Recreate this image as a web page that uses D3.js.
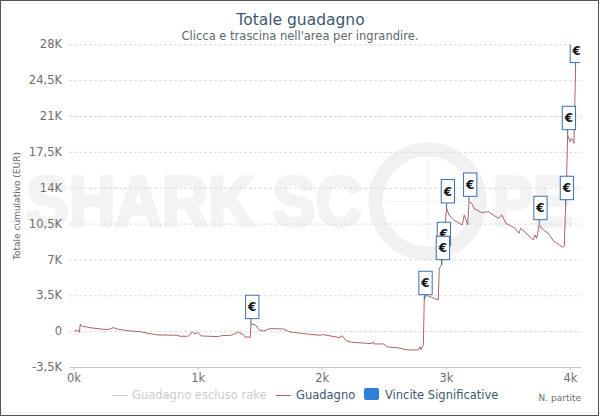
<!DOCTYPE html>
<html>
<head>
<meta charset="utf-8">
<script src="https://cdnjs.cloudflare.com/ajax/libs/d3/7.8.5/d3.min.js"></script>
<style>
    html, body { margin: 0; padding: 0; background: #fff; }
    svg { display: block; font-family: "DejaVu Sans", sans-serif; }
</style>
</head>
<body>
<div id="chart"></div>
<script>
const games = [12, 31, 47, 55, 74, 93, 133, 213, 280, 321, 361, 455, 536, 616, 681, 831, 858, 925, 957, 979, 1005, 1027, 1167, 1194, 1274, 1328, 1368, 1382, 1424, 1430, 1462, 1496, 1531, 1583, 1690, 1744, 1879, 1986, 2012, 2147, 2165, 2195, 2241, 2402, 2410, 2421, 2496, 2531, 2617, 2697, 2778, 2791, 2799, 2818, 2826, 2840, 2939, 2947, 2966, 2974, 3006, 3025, 3073, 3132, 3148, 3176, 3186, 3208, 3226, 3288, 3342, 3422, 3450, 3484, 3557, 3589, 3603, 3691, 3704, 3718, 3732, 3752, 3785, 3825, 3865, 3941, 3954, 3965, 3973, 3981, 4000, 4013, 4032, 4040, 4045]
const profit = [20, 50, -107, 673, 439, 439, 342, 215, 146, 342, 185, 20, -49, -244, -371, -400, -498, -498, -78, -244, -146, -468, -537, -439, -400, -78, -342, -566, -595, 703, 634, 117, 20, 244, 215, -78, -273, -400, -342, -634, -439, -927, -1083, -1220, -1054, -1249, -1249, -1542, -1640, -1835, -1835, -1513, -1806, -1347, 3045, 3504, 3045, 6139, 6461, 7830, 11995, 11341, 10785, 10365, 11341, 10365, 12639, 12483, 11995, 11566, 11663, 11019, 11341, 10531, 10043, 9555, 10043, 9067, 8901, 9389, 9067, 10365, 9877, 9555, 8833, 8189, 8316, 12317, 15079, 19149, 18495, 18827, 18339, 22887, 25700]

// the overlapping flags keep the order of the picture, 2966 sits on top of 2974
const flagGames = [1430, 2826, 2974, 2966, 3006, 3186, 3752, 3965, 3981, 4045]
const flagValues = [703, 3045, 7830, 6461, 11995, 12639, 10365, 12317, 19149, 25700]

const yTicks = [-3500, 0, 3500, 7000, 10500, 14000, 17500, 21000, 24500, 28000]
const yTickLabels = ['-3,5K', '0', '3,5K', '7K', '10,5K', '14K', '17,5K', '21K', '24,5K', '28K']
const xTicks = [0, 1000, 2000, 3000, 4000]
const xTickLabels = ['0k', '1k', '2k', '3k', '4k']

const width = 600, height = 417
const lineColor = '#ad646a'

const svg = d3.select('#chart').append('svg')
    .attr('width', width)
    .attr('height', height)

let x = d3.scaleLinear().domain([0, 4000]).range([73.5, 570])
let y = d3.scaleLinear().domain([-3500, 28000]).range([367, 44.3])

// frame
svg.append('rect')
    .attr('x', 0.5).attr('y', 0.5)
    .attr('width', 598).attr('height', 415)
    .attr('fill', '#fff')
    .attr('stroke', '#555')

// watermark
let mark = svg.append('g').attr('fill', '#f3f3f3')
mark.append('text')
    .attr('x', 26).attr('y', 226)
    .attr('font-family', '"Liberation Sans", sans-serif')
    .attr('font-weight', 'bold')
    .attr('font-size', 70)
    .attr('stroke', '#f3f3f3')
    .attr('stroke-width', 3.5)
    .attr('stroke-linejoin', 'round')
    .attr('textLength', 336)
    .attr('lengthAdjust', 'spacingAndGlyphs')
    .text('SHARK SC')
mark.append('text')
    .attr('x', 493).attr('y', 226)
    .attr('font-family', '"Liberation Sans", sans-serif')
    .attr('font-weight', 'bold')
    .attr('font-size', 70)
    .attr('stroke', '#f3f3f3')
    .attr('stroke-width', 3.5)
    .attr('stroke-linejoin', 'round')
    .attr('textLength', 80)
    .attr('lengthAdjust', 'spacingAndGlyphs')
    .text('PE')
mark.append('circle')
    .attr('cx', 427.5).attr('cy', 201.5).attr('r', 52)
    .attr('fill', 'none')
    .attr('stroke', '#f1f1f1')
    .attr('stroke-width', 14)
mark.append('path')
    .attr('d', 'M427.5 160V243M386 201.5H469')
    .attr('fill', 'none')
    .attr('stroke', '#f5f5f5')

// titles
svg.append('text')
    .attr('x', 300.5).attr('y', 25)
    .attr('text-anchor', 'middle')
    .attr('font-size', 15.5)
    .attr('fill', '#3b5870')
    .text('Totale guadagno')
svg.append('text')
    .attr('x', 300).attr('y', 40)
    .attr('text-anchor', 'middle')
    .attr('font-size', 11.5)
    .attr('fill', '#5f6670')
    .text('Clicca e trascina nell\'area per ingrandire.')

// y axis with grid
let yAxis = svg.append('g')
    .attr('transform', 'translate(69,0)')
    .call(d3.axisLeft(y)
        .tickValues(yTicks)
        .tickSize(-512)
        .tickPadding(7)
        .tickFormat((d, i) => yTickLabels[i]))
yAxis.select('.domain').remove()
yAxis.selectAll('line')
    .attr('stroke', '#dcdcdc')
    .attr('stroke-dasharray', '3,2')
yAxis.selectAll('text')
    .attr('font-size', 11.5)
    .attr('fill', '#6e6e6e')
    .attr('font-family', '"DejaVu Sans", sans-serif')

svg.append('text')
    .attr('transform', 'translate(20,206) rotate(-90)')
    .attr('text-anchor', 'middle')
    .attr('font-size', 9)
    .attr('fill', '#666')
    .text('Totale cumulativo (EUR)')

// x axis
let xAxis = svg.append('g')
    .attr('transform', 'translate(0,367)')
    .call(d3.axisBottom(x)
        .tickValues(xTicks)
        .tickSize(3)
        .tickPadding(4)
        .tickSizeOuter(0)
        .tickFormat((d, i) => xTickLabels[i]))
xAxis.select('.domain')
    .attr('d', 'M71,0.5H581')
    .attr('stroke', '#c4c4c4')
xAxis.selectAll('line').attr('stroke', '#c4c4c4')
xAxis.selectAll('text')
    .attr('font-size', 11.5)
    .attr('fill', '#6e6e6e')
    .attr('font-family', '"DejaVu Sans", sans-serif')

svg.append('text')
    .attr('x', 581).attr('y', 401)
    .attr('text-anchor', 'end')
    .attr('font-size', 9)
    .attr('fill', '#6e6e6e')
    .text('N. partite')

// plot area, the top flag is cut by it
svg.append('clipPath')
    .attr('id', 'plot-clip')
    .append('rect')
    .attr('x', 69).attr('y', 44.5)
    .attr('width', 511).attr('height', 323)

let plot = svg.append('g').attr('clip-path', 'url(#plot-clip)')

let line = d3.line()
    .x((d, i) => x(games[i]))
    .y(d => y(d))

plot.append('path')
    .datum(profit)
    .attr('d', line)
    .attr('fill', 'none')
    .attr('stroke', lineColor)
    .attr('stroke-width', 1)

// flags
let flags = plot.selectAll('.flag')
    .data(flagGames)
    .enter().append('g')
    .attr('class', 'flag')
    .attr('transform', (d, i) => `translate(${x(d)},${y(flagValues[i])})`)

flags.append('line')
    .attr('y1', -5.3).attr('y2', 0)
    .attr('stroke', '#3a70b0')

flags.append('rect')
    .attr('x', -5.4).attr('y', -28.7)
    .attr('width', 13.3).attr('height', 23.4)
    .attr('fill', '#fff')
    .attr('stroke', '#3a70b0')

flags.append('text')
    .attr('x', 1.2).attr('y', -12.5)
    .attr('text-anchor', 'middle')
    .attr('font-size', 12)
    .attr('font-weight', 'bold')
    .attr('fill', '#111')
    .text('€')

// legend
let legend = svg.append('g')
legend.append('line')
    .attr('x1', 112).attr('x2', 128)
    .attr('y1', 395.5).attr('y2', 395.5)
    .attr('stroke', '#ccc')
legend.append('text')
    .attr('x', 132).attr('y', 399)
    .attr('font-size', 11.5)
    .attr('fill', '#ccc')
    .text('Guadagno escluso rake')
legend.append('line')
    .attr('x1', 276).attr('x2', 291)
    .attr('y1', 395.5).attr('y2', 395.5)
    .attr('stroke', lineColor)
legend.append('text')
    .attr('x', 296).attr('y', 399)
    .attr('font-size', 11.5)
    .attr('fill', '#3b5870')
    .text('Guadagno')
legend.append('rect')
    .attr('x', 364).attr('y', 388)
    .attr('width', 15).attr('height', 12)
    .attr('rx', 2)
    .attr('fill', '#2f7ed8')
legend.append('text')
    .attr('x', 385).attr('y', 399)
    .attr('font-size', 11.5)
    .attr('fill', '#3b5870')
    .text('Vincite Significative')
</script>
</body>
</html>
